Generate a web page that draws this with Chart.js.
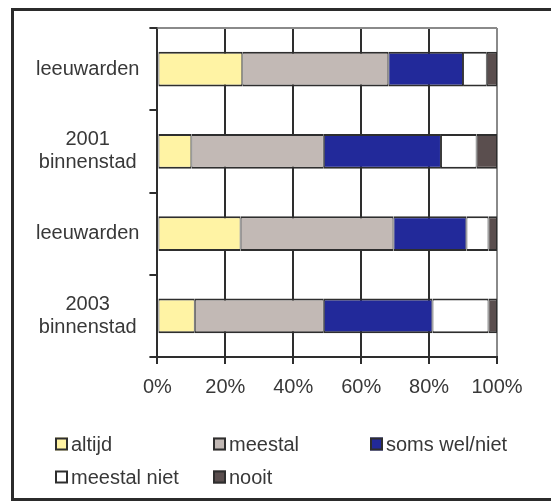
<!DOCTYPE html>
<html>
<head>
<meta charset="utf-8">
<script src="https://cdn.jsdelivr.net/npm/chart.js@4/dist/chart.umd.min.js"></script>
<style>
  html, body { margin: 0; padding: 0; background: #fff; overflow: hidden; }
  canvas { display: block; }
</style>
</head>
<body>
<canvas id="grafiek" width="551" height="503"></canvas>
<script>
// Categorieën en waarden (procenten per staaf)
const categorieen = ['leeuwarden', ['2001', 'binnenstad'], 'leeuwarden', ['2003', 'binnenstad']];
const altijd = [25, 10, 24.5, 11];
const meestal = [43, 39, 45, 38];
const somsWelNiet = [22, 34.5, 21.5, 32];
const meestalNiet = [7, 10.5, 6.5, 16.5];
const nooit = [3, 6, 2.5, 2.5];
const reeksNamen = ['altijd', 'meestal', 'soms wel/niet', 'meestal niet', 'nooit'];
const xTicks = [0, 20, 40, 60, 80, 100];

const kleuren = ['#fff3a4', '#c2b9b5', '#22299a', '#ffffff', '#5a4e4e'];
const tekstKleur = '#383838';
const lijnKleur = '#2e2e2e';
const fontFam = "'Liberation Sans', Arial, sans-serif";

const reeksen = [altijd, meestal, somsWelNiet, meestalNiet, nooit].map((d, i) => ({
    label: reeksNamen[i],
    data: d,
    backgroundColor: kleuren[i],
    borderColor: lijnKleur,
    borderWidth: { top: 2, bottom: 2, left: 1, right: 1 },
    borderSkipped: false,
    barPercentage: 0.42,
    categoryPercentage: 1
}));

// kader, bovenrand van het plotvlak en legenda
const kaderPlugin = {
    id: 'kader',
    beforeDatasetsDraw(chart) {
        const { ctx, chartArea: a } = chart;
        ctx.save();
        ctx.strokeStyle = '#8a8a8a';
        ctx.lineWidth = 2;
        ctx.beginPath();
        ctx.moveTo(a.left, a.top);
        ctx.lineTo(a.right, a.top);
        ctx.stroke();
        ctx.restore();
    },
    afterDraw(chart) {
        const ctx = chart.ctx;
        ctx.save();
        // buitenkader
        ctx.strokeStyle = '#2b2b2b';
        ctx.lineWidth = 3;
        ctx.beginPath();
        ctx.moveTo(560, 9.5);
        ctx.lineTo(12.5, 9.5);
        ctx.lineTo(12.5, 499.5);
        ctx.lineTo(560, 499.5);
        ctx.stroke();

        // legenda in drie kolommen
        const kolX = [55, 213, 370];
        const rijY = [444, 477];
        ctx.font = '20px ' + fontFam;
        ctx.textBaseline = 'middle';
        ctx.textAlign = 'left';
        chart.data.datasets.forEach((ds, i) => {
            const x = kolX[i % 3];
            const y = rijY[Math.floor(i / 3)];
            ctx.fillStyle = ds.backgroundColor;
            ctx.fillRect(x, y - 6.5, 13, 13);
            ctx.strokeStyle = lijnKleur;
            ctx.lineWidth = 2;
            ctx.strokeRect(x + 1, y - 5.5, 11, 11);
            ctx.fillStyle = tekstKleur;
            ctx.fillText(ds.label, x + 16, y + 1);
        });
        ctx.restore();
    }
};

new Chart(document.getElementById('grafiek'), {
    type: 'bar',
    data: { labels: categorieen, datasets: reeksen },
    options: {
        indexAxis: 'y',
        responsive: false,
        devicePixelRatio: 1,
        animation: false,
        layout: { padding: { left: 31, top: 28, right: 54, bottom: 93 } },
        plugins: { legend: { display: false }, tooltip: { enabled: false } },
        scales: {
            x: {
                stacked: true,
                min: 0,
                max: 100,
                afterBuildTicks: (s) => { s.ticks = xTicks.map(v => ({ value: v })); },
                grid: {
                    color: (c) => (c.tick && c.tick.value === 100 ? '#8a8a8a' : lijnKleur),
                    lineWidth: 2,
                    tickLength: 7,
                    tickColor: lijnKleur
                },
                border: { color: lijnKleur, width: 2 },
                ticks: {
                    padding: 11,
                    color: tekstKleur,
                    font: { family: fontFam, size: 20 },
                    callback: (v) => v + '%'
                }
            },
            y: {
                stacked: true,
                grid: {
                    drawOnChartArea: false,
                    tickLength: 13,
                    tickBorderDash: [0, 5, 9, 100],
                    lineWidth: 2,
                    color: lijnKleur
                },
                border: { color: lijnKleur, width: 2 },
                ticks: {
                    padding: 5,
                    crossAlign: 'center',
                    color: tekstKleur,
                    font: { family: fontFam, size: 20, lineHeight: 1.15 }
                }
            }
        }
    },
    plugins: [kaderPlugin]
});
</script>
</body>
</html>
